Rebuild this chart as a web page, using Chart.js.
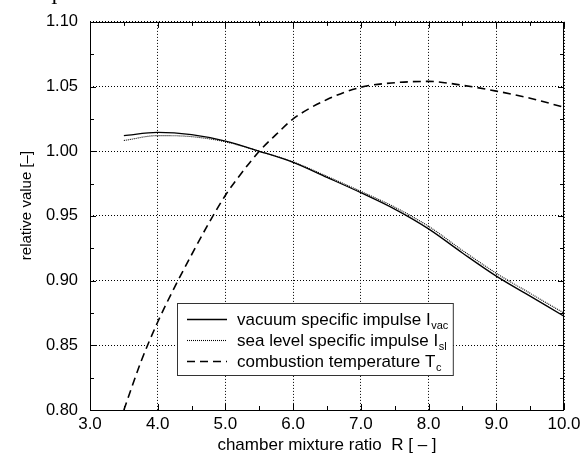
<!DOCTYPE html>
<html><head><meta charset="utf-8">
<script src="https://cdn.jsdelivr.net/npm/chart.js@4"></script>
<style>html,body{margin:0;padding:0;background:#fff}canvas{display:block}</style>
</head><body>
<canvas id="c" width="587" height="457"></canvas>
<script>
// ---- data ----
const ratioVac = [3.5, 4.0, 4.5, 5.0, 5.5, 6.0, 6.5, 7.0, 7.5, 8.0, 8.5, 9.0, 9.5, 10.0];
const ispVac   = [1.0121, 1.0146, 1.0128, 1.0078, 1.0000, 0.9914, 0.9798, 0.9680, 0.9553, 0.9400, 0.9214, 0.9035, 0.8880, 0.8725];
const ratioSl  = [3.5, 4.0, 4.5, 5.0, 5.5, 6.0, 6.5, 7.0, 7.5, 8.0, 8.5, 9.0, 9.5, 10.0];
const ispSl    = [1.0083, 1.0121, 1.0113, 1.0073, 1.0000, 0.9918, 0.9806, 0.9690, 0.9568, 0.9420, 0.9234, 0.9057, 0.8902, 0.8750];
const ratioTc  = [3.5, 3.75, 4.0, 4.25, 4.5, 4.75, 5.0, 5.25, 5.5, 5.75, 6.0, 6.5, 7.0, 7.5, 8.0, 8.5, 9.0, 9.5, 10.0];
const tempTc   = [0.800, 0.837, 0.868, 0.895, 0.920, 0.944, 0.966, 0.984, 1.000, 1.013, 1.025, 1.040, 1.0495, 1.053, 1.054, 1.051, 1.0465, 1.041, 1.034];
const xTickValues = [3, 4, 5, 6, 7, 8, 9, 10];
const yTickValues = [0.80, 0.85, 0.90, 0.95, 1.00, 1.05, 1.10];
const seriesNames = ['vacuum specific impulse I', 'sea level specific impulse I', 'combustion temperature T'];
const seriesSubs  = ['vac', 'sl', 'c'];
const xTitle = 'chamber mixture ratio  R [ \u2013 ]';
const yTitle = 'relative value [\u2013]';

const FONT = '"Liberation Sans", Arial, Helvetica, sans-serif';
const toPts = (xs, ys) => xs.map((x, i) => ({x: x, y: ys[i]}));

const frame = {
  id: 'frame',
  afterDatasetsDraw(chart) {
    const ctx = chart.ctx, a = chart.chartArea;
    const xs = chart.scales.x, ys = chart.scales.y;
    ctx.save();
    ctx.strokeStyle = '#000';
    ctx.lineWidth = 1;
    ctx.setLineDash([]);
    ctx.strokeRect(Math.round(a.left) + 0.5, Math.round(a.top) + 0.5, Math.round(a.right - a.left) - 1, Math.round(a.bottom - a.top));
    ctx.beginPath();
    for (let v = xs.min; v <= xs.max + 1e-9; v += 0.5) {
      const len = Math.abs(v - Math.round(v)) < 1e-6 ? 6 : 4;
      const px = Math.round(xs.getPixelForValue(v)) + 0.5;
      ctx.moveTo(px, a.bottom); ctx.lineTo(px, a.bottom - len);
      ctx.moveTo(px, a.top); ctx.lineTo(px, a.top + len);
    }
    for (let v = ys.min; v <= ys.max + 1e-9; v += 0.025) {
      const major = Math.abs(v / 0.05 - Math.round(v / 0.05)) < 1e-6;
      const len = major ? 6 : 4;
      const py = Math.round(ys.getPixelForValue(v)) + 0.5;
      ctx.moveTo(a.left, py); ctx.lineTo(a.left + len, py);
      ctx.moveTo(a.right, py); ctx.lineTo(a.right - len, py);
    }
    ctx.stroke();
    ctx.restore();
  },
  afterDraw(chart) {
    const ctx = chart.ctx;
    ctx.save();
    // clipped glyph at the very top of the figure
    ctx.fillStyle = '#000';
    ctx.font = '20px "Liberation Serif", serif';
    ctx.textBaseline = 'alphabetic';
    ctx.fillText('I', 51, 4);
    // legend
    const bx = 177, by = 303, bh = 72;
    const textX = 237, rowY = [319, 340, 361];
    const mainFont = '17px ' + FONT, subFont = '11px ' + FONT;
    let maxW = 0;
    seriesNames.forEach((s, i) => {
      ctx.font = mainFont; const w1 = ctx.measureText(s).width;
      ctx.font = subFont; const w2 = ctx.measureText(seriesSubs[i]).width;
      maxW = Math.max(maxW, w1 + w2);
    });
    const bw = textX + maxW + 5 - bx;
    ctx.fillStyle = '#fff';
    ctx.fillRect(bx, by, bw, bh);
    ctx.strokeStyle = '#333';
    ctx.lineWidth = 1;
    ctx.setLineDash([]);
    ctx.strokeRect(bx + 0.5, by + 0.5, bw, bh);
    chart.data.datasets.forEach((ds, i) => {
      ctx.save();
      ctx.strokeStyle = ds.borderColor;
      ctx.lineWidth = ds.borderWidth;
      ctx.setLineDash(ds.borderDash || []);
      ctx.beginPath();
      ctx.moveTo(187, rowY[i] + 0.5); ctx.lineTo(227, rowY[i] + 0.5);
      ctx.stroke();
      ctx.restore();
      ctx.fillStyle = '#000';
      ctx.textBaseline = 'middle';
      ctx.font = mainFont;
      ctx.fillText(seriesNames[i], textX, rowY[i] + 1);
      const w = ctx.measureText(seriesNames[i]).width;
      ctx.font = subFont;
      ctx.fillText(seriesSubs[i], textX + w + 0.5, rowY[i] + 7);
    });
    ctx.restore();
  }
};

new Chart(document.getElementById('c'), {
  type: 'line',
  data: {
    datasets: [
      { label: seriesNames[0] + seriesSubs[0], data: toPts(ratioVac, ispVac), borderColor: '#000', borderWidth: 1.3, borderDash: [], pointRadius: 0, cubicInterpolationMode: 'monotone', fill: false },
      { label: seriesNames[1] + seriesSubs[1], data: toPts(ratioSl, ispSl), borderColor: '#000', borderWidth: 1.1, borderDash: [1, 1], pointRadius: 0, cubicInterpolationMode: 'monotone', fill: false },
      { label: seriesNames[2] + seriesSubs[2], data: toPts(ratioTc, tempTc), borderColor: '#000', borderWidth: 1.6, borderDash: [8, 5], pointRadius: 0, cubicInterpolationMode: 'monotone', fill: false }
    ]
  },
  options: {
    responsive: false,
    animation: false,
    devicePixelRatio: 1,
    layout: { padding: { left: 0, top: 14, right: 23, bottom: 0 } },
    plugins: { legend: { display: false }, tooltip: { enabled: false } },
    scales: {
      x: {
        type: 'linear', min: 3, max: 10,
        afterBuildTicks: s => { s.ticks = xTickValues.map(v => ({value: v})); },
        afterFit: s => { s.height = 47; },
        grid: { color: '#000', lineWidth: 1, drawTicks: false },
        border: { display: false, dash: [1, 2] },
        ticks: { font: { family: FONT, size: 17 }, color: '#000', padding: 4, maxRotation: 0, callback: v => v.toFixed(1) },
        title: { display: true, text: xTitle, font: { family: FONT, size: 17 }, color: '#000', padding: { top: 0, bottom: 1 } }
      },
      y: {
        type: 'linear', min: 0.8, max: 1.1,
        afterBuildTicks: s => { s.ticks = yTickValues.map(v => ({value: v})); },
        afterFit: s => { s.width = 90; },
        grid: { color: '#000', lineWidth: 1, drawTicks: false },
        border: { display: false, dash: [1, 2] },
        ticks: { font: { family: FONT, size: 16.5 }, color: '#000', padding: 12, callback: v => v.toFixed(2) },
        title: { display: true, text: '     ' + yTitle, font: { family: FONT, size: 15 }, color: '#000', padding: { top: 17.5, bottom: 0 } }
      }
    }
  },
  plugins: [frame]
});
</script>
</body></html>
